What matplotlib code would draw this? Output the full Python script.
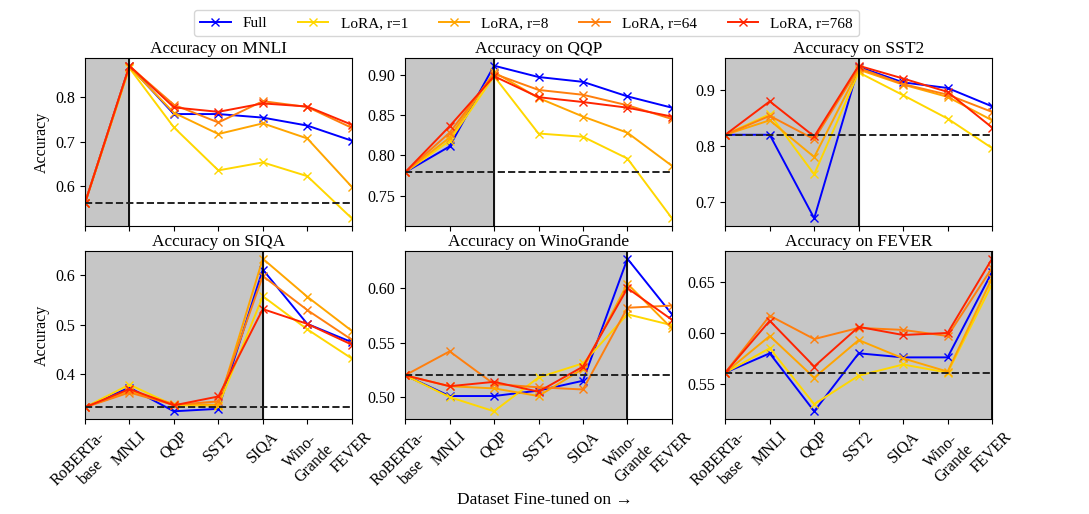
import numpy as np
import matplotlib
matplotlib.use("Agg")
import matplotlib.pyplot as plt

plt.rcParams['font.family'] = ['Liberation Serif', 'DejaVu Sans']

# datasets (x axis) and the target dataset of each panel
datasets = ["RoBERTa-\nbase", "MNLI", "QQP", "SST2", "SIQA", "Wino-\nGrande", "FEVER"]
panel_names = ["MNLI", "QQP", "SST2", "SIQA", "WinoGrande", "FEVER"]

series_names = ["Full", "LoRA, r=1", "LoRA, r=8", "LoRA, r=64", "LoRA, r=768"]
series_colors = ["#0000ff", "#ffd700", "#ffa500", "#ff7f0e", "#ff2400"]

# accuracy on each panel's dataset, one row per series
acc_mnli = [
    [0.561, 0.870, 0.762, 0.762, 0.754, 0.736, 0.702],
    [0.561, 0.866, 0.732, 0.635, 0.653, 0.622, 0.527],
    [0.561, 0.868, 0.765, 0.717, 0.741, 0.707, 0.598],
    [0.561, 0.870, 0.783, 0.743, 0.791, 0.778, 0.731],
    [0.561, 0.871, 0.777, 0.767, 0.786, 0.779, 0.738],
]
acc_qqp = [
    [0.779, 0.811, 0.911, 0.897, 0.891, 0.873, 0.859],
    [0.779, 0.818, 0.898, 0.827, 0.823, 0.796, 0.722],
    [0.779, 0.822, 0.903, 0.871, 0.848, 0.828, 0.787],
    [0.779, 0.828, 0.901, 0.881, 0.875, 0.862, 0.845],
    [0.779, 0.836, 0.898, 0.872, 0.866, 0.859, 0.848],
]
acc_sst2 = [
    [0.820, 0.820, 0.670, 0.942, 0.914, 0.904, 0.871],
    [0.820, 0.857, 0.749, 0.932, 0.891, 0.849, 0.796],
    [0.820, 0.846, 0.780, 0.937, 0.910, 0.888, 0.846],
    [0.820, 0.854, 0.812, 0.940, 0.911, 0.892, 0.861],
    [0.820, 0.880, 0.817, 0.944, 0.921, 0.897, 0.833],
]
acc_siqa = [
    [0.333, 0.373, 0.325, 0.330, 0.612, 0.502, 0.465],
    [0.333, 0.379, 0.337, 0.336, 0.558, 0.491, 0.432],
    [0.333, 0.366, 0.340, 0.338, 0.634, 0.557, 0.488],
    [0.333, 0.363, 0.338, 0.345, 0.599, 0.530, 0.470],
    [0.333, 0.370, 0.337, 0.355, 0.532, 0.502, 0.460],
]
acc_wino = [
    [0.520, 0.501, 0.501, 0.506, 0.515, 0.627, 0.576],
    [0.520, 0.500, 0.487, 0.518, 0.531, 0.576, 0.566],
    [0.520, 0.510, 0.508, 0.501, 0.526, 0.604, 0.563],
    [0.520, 0.542, 0.512, 0.509, 0.507, 0.582, 0.584],
    [0.520, 0.510, 0.514, 0.505, 0.528, 0.600, 0.571],
]
acc_fever = [
    [0.561, 0.580, 0.523, 0.580, 0.576, 0.576, 0.660],
    [0.561, 0.585, 0.530, 0.558, 0.569, 0.561, 0.648],
    [0.561, 0.597, 0.556, 0.593, 0.575, 0.562, 0.654],
    [0.561, 0.617, 0.594, 0.605, 0.603, 0.597, 0.664],
    [0.561, 0.612, 0.567, 0.606, 0.598, 0.600, 0.673],
]
all_acc = [acc_mnli, acc_qqp, acc_sst2, acc_siqa, acc_wino, acc_fever]

fig, axes = plt.subplots(2, 3, figsize=(10.89, 5.14), dpi=100)
plt.subplots_adjust(left=0.078, right=0.911, top=0.887, bottom=0.185,
                    wspace=0.2, hspace=0.15)

x = np.arange(len(datasets))
for k, ax in enumerate(axes.flat):
    acc = all_acc[k]
    target = k + 1
    for s in range(len(series_names)):
        ax.plot(x, acc[s], marker='x', ms=6, lw=1.4, color=series_colors[s],
                label=series_names[s])
    ax.axvspan(0, target, color='#c6c6c6', zorder=0)
    ax.axvline(target, color='black', lw=1.3)
    ax.axhline(acc[0][0], color='#222222', ls='--', lw=1.4)
    ax.set_xlim(0, 6)
    ax.set_title("Accuracy on " + panel_names[k], fontsize=12.5, pad=4)
    ax.tick_params(labelsize=11.5)
    ax.set_xticks(x)
    if k < 3:
        ax.set_xticklabels([])
    else:
        ax.set_xticklabels(datasets, rotation=45, ha='center', fontsize=11.5)
    if k % 3 == 0:
        ax.set_ylabel("Accuracy", fontsize=11.5)

axes[0, 1].set_yticks([0.75, 0.80, 0.85, 0.90])
axes[1, 1].set_yticks([0.50, 0.55, 0.60])
axes[1, 2].set_yticks([0.55, 0.60, 0.65])

handles, labels = axes[0, 0].get_legend_handles_labels()
fig.legend(handles, labels, loc='upper center', ncol=5, fontsize=11,
           bbox_to_anchor=(0.4835, 0.995), columnspacing=2.0, handlelength=2.0)
fig.text(0.5, 0.02, "Dataset Fine-tuned on \u2192", ha='center', fontsize=12.5,
         family=['Liberation Serif', 'DejaVu Sans'])

fig.savefig("out.png", dpi=100)
